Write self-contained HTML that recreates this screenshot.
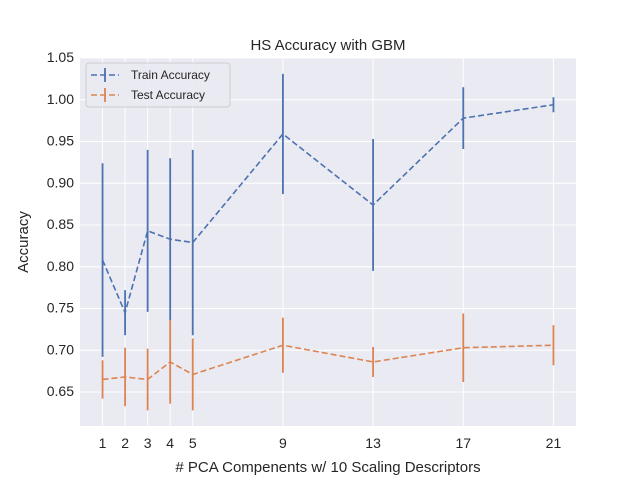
<!DOCTYPE html>
<html><head><meta charset="utf-8"><style>
body{margin:0;background:#fff;font-family:"Liberation Sans",sans-serif}
svg text{font-family:"Liberation Sans",sans-serif;fill:#262626}
</style></head><body>
<svg id="chart" width="640" height="480"></svg>
<script>
const xs=[1,2,3,4,5,9,13,17,21];
const trainAcc=[0.808,0.745,0.843,0.833,0.829,0.959,0.874,0.978,0.994];
const trainErr=[0.116,0.027,0.097,0.097,0.111,0.072,0.079,0.037,0.009];
const testAcc=[0.665,0.668,0.665,0.686,0.671,0.706,0.686,0.703,0.706];
const testErr=[0.023,0.035,0.037,0.05,0.043,0.033,0.018,0.041,0.024];
const yTicks=[0.65,0.70,0.75,0.80,0.85,0.90,0.95,1.00,1.05];
const L=80,R=576,T=58,B=426;
const X=v=>L+(v-0)/(22-0)*(R-L);
const Y=v=>58+(1.05-v)/0.05*41.75;
const svg=document.getElementById('chart');
const NS='http://www.w3.org/2000/svg';
function add(tag,attrs,parent,text){const e=document.createElementNS(NS,tag);for(const k in attrs)e.setAttribute(k,attrs[k]);if(text!==undefined)e.textContent=text;(parent||svg).appendChild(e);return e;}
const bg=add('rect',{x:L,y:T,width:R-L,height:B-T,fill:'#eaeaf2'});

yTicks.forEach(t=>{
 const g=add('line',{x1:L,x2:R,y1:Y(t),y2:Y(t),stroke:'#fff','stroke-width':1});
 
 const tx=add('text',{x:L-6,y:Y(t)+4,'text-anchor':'end','font-size':14},null,t.toFixed(2));
 
});
xs.forEach(t=>{
 const g=add('line',{x1:X(t),x2:X(t),y1:T,y2:B,stroke:'#fff','stroke-width':1});
 
 const tx=add('text',{x:X(t),y:B+22,'text-anchor':'middle','font-size':14},null,String(t));
 
});
function series(vals,errs,color,name){
 const pl=add('polyline',{points:xs.map((x,i)=>X(x)+','+Y(vals[i])).join(' '),fill:'none',stroke:color,'stroke-width':1.6,'stroke-dasharray':'6,3'});
 
 xs.forEach((x,i)=>{
  const e=add('line',{x1:X(x),x2:X(x),y1:Y(vals[i]+errs[i]),y2:Y(vals[i]-errs[i]),stroke:color,'stroke-width':1.8});
  
 });
}
series(trainAcc,trainErr,'#4c72b0','train');
series(testAcc,testErr,'#dd8452','test');
</script>
<svg width="640" height="480" style="position:absolute;left:0;top:0">
<text x="328" y="50" text-anchor="middle" font-size="15">HS Accuracy with GBM</text>
<text x="328" y="472" text-anchor="middle" font-size="15"># PCA Compenents w/ 10 Scaling Descriptors</text>
<text transform="translate(28,242) rotate(-90)" text-anchor="middle" font-size="15">Accuracy</text>
<g>
<rect x="86" y="63" width="144" height="44" rx="3" fill="#eaeaf2" stroke="#ccc" opacity="0.9"/>
<g>
<line x1="91" x2="119" y1="75" y2="75" stroke="#4c72b0" stroke-width="1.6" stroke-dasharray="6,3"/>
<line x1="105" x2="105" y1="68" y2="82" stroke="#4c72b0" stroke-width="1.8"/>
<text x="131" y="79" font-size="12">Train Accuracy</text></g>
<g>
<line x1="91" x2="119" y1="95" y2="95" stroke="#dd8452" stroke-width="1.6" stroke-dasharray="6,3"/>
<line x1="105" x2="105" y1="88" y2="102" stroke="#dd8452" stroke-width="1.8"/>
<text x="131" y="99" font-size="12">Test Accuracy</text></g>
</g>
</svg>
</body></html>
